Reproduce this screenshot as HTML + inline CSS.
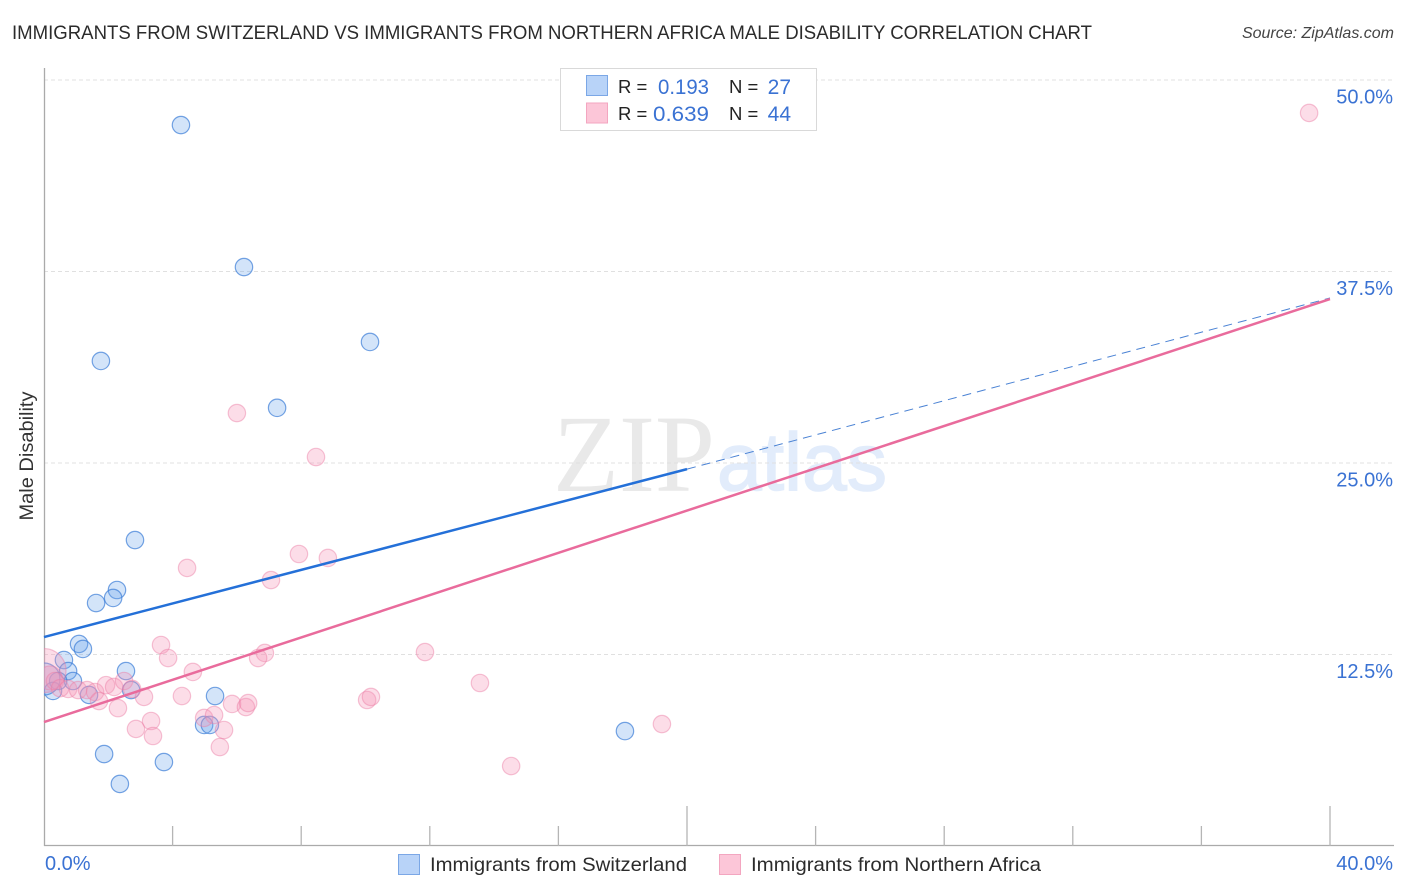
<!DOCTYPE html>
<html lang="en">
<head>
<meta charset="utf-8">
<title>Immigrants from Switzerland vs Immigrants from Northern Africa Male Disability Correlation Chart</title>
<style>
html,body{margin:0;padding:0;background:#fff;width:1406px;height:892px;overflow:hidden}
svg{display:block;font-family:"Liberation Sans",sans-serif}
</style>
</head>
<body>
<svg id="chart" width="1406" height="892" viewBox="0 0 1406 892" xmlns="http://www.w3.org/2000/svg">
  <defs><clipPath id="plot-clip"><rect x="44" y="60" width="1350" height="786"/></clipPath></defs>
  <text x="12" y="39" font-size="19.5" fill="#2b2b2b" textLength="1080" lengthAdjust="spacingAndGlyphs">IMMIGRANTS FROM SWITZERLAND VS IMMIGRANTS FROM NORTHERN AFRICA MALE DISABILITY CORRELATION CHART</text>
  <text x="1394" y="38" font-size="16" font-style="italic" fill="#444" text-anchor="end">Source: ZipAtlas.com</text>
  <g>
    <text x="553" y="491" font-family="'Liberation Serif',serif" font-size="110" fill="#e9e9e9" textLength="162" lengthAdjust="spacingAndGlyphs">ZIP</text>
    <text x="717" y="490" font-size="82" fill="#e2ecfb" stroke="#e2ecfb" stroke-width="1.5" textLength="170" lengthAdjust="spacingAndGlyphs">atlas</text>
  </g>
  <g id="grid"></g>
  <g id="axes">
    <line x1="44.5" y1="68" x2="44.5" y2="846" stroke="#aaa" stroke-width="1.3"/>
    <line x1="44" y1="845.5" x2="1394" y2="845.5" stroke="#aaa" stroke-width="1.3"/>
  </g>
  <g id="xticks"></g>
  <g id="ylabels"></g>
  <g id="xlabels"></g>
  <text transform="translate(33,456) rotate(-90)" font-size="19.5" fill="#333" text-anchor="middle" textLength="129" lengthAdjust="spacingAndGlyphs">Male Disability</text>
  <g id="points-swiss" clip-path="url(#plot-clip)"></g>
  <g id="points-africa" clip-path="url(#plot-clip)"></g>
  <g id="trends"></g>
  <g>
    <rect x="560.5" y="68.5" width="256" height="62" fill="#fff" stroke="#d9d9d9"/>
    <rect x="586.5" y="75.5" width="21" height="20" fill="#b8d3f8" stroke="#7ba7e6"/>
    <rect x="586.5" y="103" width="21" height="20" fill="#fcc6d8" stroke="#f3a6c0"/>
    <text x="618" y="93" font-size="18.5" fill="#222">R =</text>
    <text x="658" y="94" font-size="21" fill="#3a72d3" textLength="51" lengthAdjust="spacingAndGlyphs">0.193</text>
    <text x="729" y="93" font-size="18.5" fill="#222">N =</text>
    <text x="791" y="94" font-size="21" fill="#3a72d3" text-anchor="end">27</text>
    <text x="618" y="120" font-size="18.5" fill="#222">R =</text>
    <text x="653" y="121" font-size="21" fill="#3a72d3" textLength="56" lengthAdjust="spacingAndGlyphs">0.639</text>
    <text x="729" y="120" font-size="18.5" fill="#222">N =</text>
    <text x="791" y="121" font-size="21" fill="#3a72d3" text-anchor="end">44</text>
  </g>
  <g>
    <rect x="398.5" y="854.5" width="21" height="20" fill="#b8d3f8" stroke="#7ba7e6"/>
    <text x="430" y="871" font-size="19.5" fill="#2b2b2b" textLength="257" lengthAdjust="spacingAndGlyphs">Immigrants from Switzerland</text>
    <rect x="719.5" y="854.5" width="21" height="20" fill="#fcc6d8" stroke="#f3a6c0"/>
    <text x="751" y="871" font-size="19.5" fill="#2b2b2b" textLength="290" lengthAdjust="spacingAndGlyphs">Immigrants from Northern Africa</text>
  </g>
</svg>
<script>
const yTickValues = [50, 37.5, 25, 12.5];
const yTickLabels = ["50.0%", "37.5%", "25.0%", "12.5%"];
const xTickValues = [4, 8, 12, 16, 20, 24, 28, 32, 36, 40];
const xMajorTicks = [20, 40];
const xEdgeValues = [0, 40];
const xEdgeLabels = ["0.0%", "40.0%"];

const swissX = [4.26, 6.22, 10.14, 1.77, 7.25, 2.83, 2.27, 2.15, 1.62, 1.09, 1.21, 0.62, 0.75, 0.9, 0.44, 0.28, 0.0, 1.4, 2.55, 2.71, 5.32, 4.98, 5.16, 18.07, 1.87, 3.73, 2.36];
const swissY = [47.06, 37.79, 32.9, 31.66, 28.6, 19.97, 16.71, 16.19, 15.86, 13.19, 12.86, 12.14, 11.42, 10.77, 10.77, 10.12, 10.9, 9.86, 11.42, 10.18, 9.79, 7.9, 7.9, 7.5, 6.0, 5.48, 4.05];
const swissWeight = [1, 1, 1, 1, 1, 1, 1, 1, 1, 1, 1, 1, 1, 1, 1, 1, 3.4, 1, 1, 1, 1, 1, 1, 1, 1, 1, 1];

const africaX = [39.35, 6.0, 8.46, 7.93, 8.83, 4.45, 7.06, 3.64, 3.86, 6.87, 6.66, 11.85, 13.56, 4.63, 0.0, 0.19, 0.34, 0.5, 0.75, 1.06, 1.34, 1.59, 1.71, 1.93, 2.18, 2.49, 2.74, 2.3, 3.11, 4.29, 2.86, 3.33, 3.39, 4.98, 5.29, 5.6, 5.47, 5.85, 6.28, 6.35, 10.05, 10.17, 14.53, 19.22];
const africaY = [47.85, 28.26, 25.39, 19.06, 18.8, 18.15, 17.36, 13.12, 12.27, 12.6, 12.27, 12.66, 10.64, 11.36, 11.45, 10.97, 10.77, 10.3, 10.25, 10.18, 10.18, 10.05, 9.46, 10.5, 10.38, 10.77, 10.25, 9.0, 9.73, 9.79, 7.64, 8.16, 7.18, 8.36, 8.55, 7.57, 6.46, 9.27, 9.07, 9.33, 9.53, 9.73, 5.22, 7.96];
const africaWeight = [1, 1, 1, 1, 1, 1, 1, 1, 1, 1, 1, 1, 1, 1, 6.4, 1.9, 1, 1, 1, 1, 1, 1, 1, 1, 1, 1, 1, 1, 1, 1, 1, 1, 1, 1, 1, 1, 1, 1, 1, 1, 1, 1, 1, 1];

const swissTrendX = [0, 20, 40];
const swissTrendY = [13.64, 24.6, 35.77];
const africaTrendX = [0, 40];
const africaTrendY = [8.09, 35.7];

const NS = "http://www.w3.org/2000/svg";
function xScale(v) { return 44 + v * 32.15; }
function yScale(v) { return 846 - v * 15.32; }
function rScale(w) { return 8.7 * Math.sqrt(w); }
function make(tag, parentId, attrs) {
  const el = document.createElementNS(NS, tag);
  for (const k in attrs) el.setAttribute(k, attrs[k]);
  document.getElementById(parentId).appendChild(el);
  return el;
}

yTickValues.forEach(function (v, i) {
  const grid = make("line", "grid", { x1: 44, x2: 1394, y1: yScale(v), y2: yScale(v), stroke: "#e0e0e0", "stroke-width": 1, "stroke-dasharray": "4 3" });
  
  
  const label = make("text", "ylabels", { x: 1393, y: yScale(v) + 23.5, "font-size": 20, fill: "#3a72d3", "text-anchor": "end" });
  label.textContent = yTickLabels[i];
  
  
});

xTickValues.forEach(function (v) {
  const major = xMajorTicks.indexOf(v) >= 0;
  const tick = make("line", "xticks", { x1: xScale(v), x2: xScale(v), y1: major ? 806 : 826, y2: 846, stroke: "#b5b5b5", "stroke-width": 1.3 });
  
  
});

xEdgeValues.forEach(function (v, i) {
  const label = make("text", "xlabels", { x: i === 0 ? xScale(v) + 1 : 1393, y: 870, "font-size": 20, fill: "#3a72d3", "text-anchor": i === 0 ? "start" : "end" });
  label.textContent = xEdgeLabels[i];
  
  
});

swissX.forEach(function (v, i) {
  const c = make("circle", "points-swiss", { cx: xScale(v), cy: yScale(swissY[i]), r: rScale(swissWeight[i]), fill: "rgba(110,165,235,0.3)", stroke: "rgba(60,125,215,0.7)", "stroke-width": 1.2 });
  
  
});

africaX.forEach(function (v, i) {
  const c = make("circle", "points-africa", { cx: xScale(v), cy: yScale(africaY[i]), r: rScale(africaWeight[i]), fill: "rgba(245,150,185,0.32)", stroke: "rgba(235,125,165,0.45)", "stroke-width": 1.2 });
  
  
});

const swissSolid = make("line", "trends", { x1: xScale(swissTrendX[0]), y1: yScale(swissTrendY[0]), x2: xScale(swissTrendX[1]), y2: yScale(swissTrendY[1]), stroke: "#2470d8", "stroke-width": 2.5 });



const swissDash = make("line", "trends", { x1: xScale(swissTrendX[1]), y1: yScale(swissTrendY[1]), x2: xScale(swissTrendX[2]), y2: yScale(swissTrendY[2]), stroke: "#4a82d4", "stroke-width": 1, "stroke-dasharray": "9 6" });



const africaLine = make("line", "trends", { x1: xScale(africaTrendX[0]), y1: yScale(africaTrendY[0]), x2: xScale(africaTrendX[1]), y2: yScale(africaTrendY[1]), stroke: "#e96b9c", "stroke-width": 2.5 });


</script>
</body>
</html>
